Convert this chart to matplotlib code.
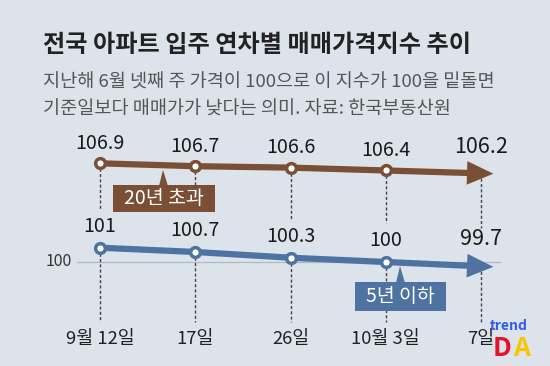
import matplotlib
matplotlib.use("Agg")
import matplotlib.pyplot as plt
from matplotlib.patches import FancyArrowPatch, Rectangle, Polygon, ArrowStyle

plt.rcParams['font.family'] = ['Noto Sans CJK KR', 'DejaVu Sans']

# ---- data ----
dates = ["9월 12일", "17일", "26일", "10월 3일", "7일"]
over20 = [106.9, 106.7, 106.6, 106.4, 106.2]
under5 = [101.0, 100.7, 100.3, 100.0, 99.7]
over20_label = "20년 초과"
under5_label = "5년 이하"
title = "전국 아파트 입주 연차별 매매가격지수 추이"
subtitle = ["지난해 6월 넷째 주 가격이 100으로 이 지수가 100을 밑돌면",
            "기준일보다 매매가가 낮다는 의미. 자료: 한국부동산원"]
base_value = 100

# ---- style ----
BG = "#dce3ea"
BROWN = "#7a4f36"
BLUE = "#4e73a0"
TXT = "#222222"

W, H = 550, 366
X0, XS = 100.0, 95.25      # pixel of first category, pixels per category
Y100, YS = 262.0, 14.3     # pixel of value 100, pixels per unit

fig = plt.figure(figsize=(W / 100, H / 100), dpi=100, facecolor=BG)
ax = fig.add_axes([0, 0, 1, 1])
ax.set_facecolor(BG)
ax.set_xlim(-X0 / XS, (W - X0) / XS)
ax.set_ylim(100 - (H - Y100) / YS, 100 + Y100 / YS)
ax.axis("off")


def px(x, y):
    return (x - X0) / XS, 100 + (Y100 - y) / YS


xs = list(range(len(dates)))

# title / subtitle
tx, ty = px(43, 45)
ax.text(tx, ty, title, fontsize=17.4, fontweight="bold", color=TXT, ha="left", va="center")
for i, line in enumerate(subtitle):
    sx, sy = px(43, 83 + 27 * i)
    ax.text(sx, sy, line, fontsize=13.4, color="#555555", ha="left", va="center")

# baseline 100
bx0, _ = px(77, 0)
bx1, _ = px(500, 0)
ax.plot([bx0, bx1], [base_value, base_value], color="#b0b8c1", lw=0.9, zorder=1)
lx, _ = px(72, 0)
ax.text(lx, base_value, str(base_value), fontsize=11.5, color="#333333", ha="right", va="center")

# dashed guides
dash = dict(color="#444444", lw=1.0, linestyle=(0, (2.2, 1.6)), zorder=1)
low_end = px(0, 322)[1]
for i in xs:
    ax.plot([i, i], [over20[i], under5[i] + 2.7], **dash)
    ax.plot([i, i], [under5[i], low_end], **dash)

# x labels
ly = px(0, 339)[1]
for i, d in enumerate(dates):
    ax.text(i, ly, d, fontsize=13.3, color=TXT, ha="center", va="center")

# lines with arrows
ext = 0.13
for vals, col in ((over20, BROWN), (under5, BLUE)):
    ax.plot(xs[:-1], vals[:-1], color=col, lw=4.5, solid_capstyle="butt", zorder=3)
    slope = vals[-1] - vals[-2]
    tip = (xs[-1] + ext, vals[-1] + slope * ext)
    arr = FancyArrowPatch((xs[-2], vals[-2]), tip,
                          arrowstyle=ArrowStyle("simple", head_length=1.9, head_width=1.7, tail_width=0.45),
                          mutation_scale=10, color=col, lw=0, zorder=3, shrinkA=0, shrinkB=0)
    ax.add_patch(arr)
    ax.plot(xs[:-1], vals[:-1], linestyle="none", marker="o", ms=7, mew=2.5,
            mfc="white", mec=col, zorder=4)

# value labels
for i in xs:
    last = i == xs[-1]
    fs = 15.5 if last else 14.2
    off = 19 if last else 14.5
    ax.annotate(f"{over20[i]:g}", (i, over20[i]), xytext=(0, off), textcoords="offset points",
                ha="center", va="center", fontsize=fs, color="#1a1a1a")
    ax.annotate(f"{under5[i]:g}", (i, under5[i]), xytext=(0, off + 1), textcoords="offset points",
                ha="center", va="center", fontsize=fs, color="#1a1a1a")


# series tag boxes with pointer
def tag(x0, y0, x1, y1, ptr_x, ptr_y, text, col):
    a = px(x0, y1)
    b = px(x1, y0)
    ax.add_patch(Rectangle(a, b[0] - a[0], b[1] - a[1], facecolor=col, edgecolor="none", zorder=5))
    p1 = px(ptr_x - 4, y0 + 1)
    p2 = px(ptr_x + 5, y0 + 1)
    p3 = px(ptr_x, ptr_y)
    ax.add_patch(Polygon([p1, p2, p3], closed=True, facecolor=col, edgecolor="none", zorder=5))
    c = px((x0 + x1) / 2, (y0 + y1) / 2)
    ax.text(c[0], c[1], text, fontsize=14, color="white", ha="center", va="center", zorder=6)


tag(113, 185, 215, 212, 163, 170, over20_label, BROWN)
tag(355, 282, 446, 311, 400, 266, under5_label, BLUE)

# watermark
wx, wy = px(509, 326)
ax.text(wx, wy, "trend", fontsize=10, fontweight="bold", color="#2f5bf0", ha="center", va="center", zorder=7)
dx, dy = px(502, 349)
ax.text(dx, dy, "D", fontsize=19, fontweight="bold", color="#e4132a", ha="center", va="center", zorder=7)
ax2x, _ = px(522, 0)
ax.text(ax2x, dy, "A", fontsize=19, fontweight="bold", color="#f7c600", ha="center", va="center", zorder=7)

fig.savefig("out.png", dpi=100, facecolor=BG)
